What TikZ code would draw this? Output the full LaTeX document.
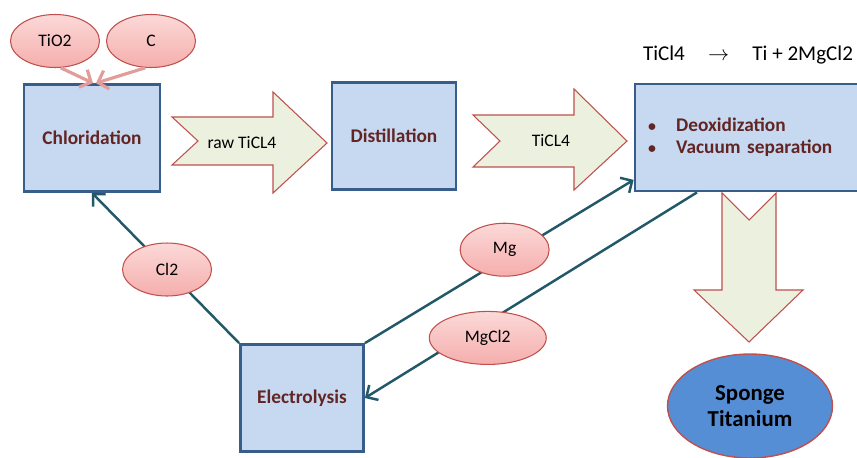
\documentclass[tikz,border=0pt]{standalone}
\usepackage{fontspec}
\setmainfont{Carlito}
\usetikzlibrary{arrows.meta,shapes.geometric}
\definecolor{boxfill}{HTML}{C6D9F1}
\definecolor{boxline}{HTML}{385D8A}
\definecolor{boxtext}{HTML}{632523}
\definecolor{ovaltop}{HTML}{FBD9D8}
\definecolor{ovalbot}{HTML}{F5AEAC}
\definecolor{redline}{HTML}{C0504D}
\definecolor{arrowfill}{HTML}{EBF1DE}
\definecolor{linkcol}{HTML}{215968}
\definecolor{feedcol}{HTML}{E29C9A}
\definecolor{spongefill}{HTML}{558ED5}

\begin{document}
\begin{tikzpicture}[x=0.02cm, y=-0.02cm, every node/.style={font=\fontsize{10}{12}\selectfont}]
\tikzset{
  stage/.style={draw=boxline, fill=boxfill, line width=1.6pt, text=boxtext,
    font=\fontsize{11}{12}\selectfont\bfseries, minimum height=2.14cm},
  oval/.style={ellipse, draw=redline, top color=ovaltop, bottom color=ovalbot,
    line width=0.6pt, minimum width=1.78cm, minimum height=1.06cm, inner sep=0pt},
  blockarrow/.style={draw=redline, fill=arrowfill, line width=0.6pt, line join=miter},
  link/.style={draw=linkcol, line width=1.4pt, -{Straight Barb[length=5pt,width=10pt]}},
  feed/.style={draw=feedcol, line width=1.8pt, -{Straight Barb[length=5pt,width=11pt]}}
}
\fill[white] (0,0) rectangle (857,457);
\useasboundingbox (0,0) rectangle (857,457);

% process stages
\node[stage, minimum width=2.72cm] (chlor) at (92,138) {Chloridation};
\node[stage, minimum width=2.48cm] (dist) at (394,136) {Distillation};
\node[stage, minimum width=2.46cm] (elec) at (302,398) {Electrolysis};
\node[stage, minimum width=4.6cm, text width=4.08cm, inner xsep=0.26cm, align=left,
  font=\fontsize{11}{12.6}\selectfont\bfseries] (deox) at (750,137.5)
  {{\small\textbullet}\hspace{1.05em}Deoxidization\\{\small\textbullet}\hspace{1.05em}Vacuum separation};

% raw materials
\node[oval] (tio2) at (55,41) {TiO2};
\node[oval] (carbon) at (151,41) {C};
\draw[feed] (tio2.-78) -- ([xshift=0.02cm]chlor.north);
\draw[feed] (carbon.-102) -- ([xshift=0.08cm]chlor.north);

% main flow
\draw[blockarrow] (172,117) -- (273,117) -- (273,92) -- (327,143) -- (273,193)
  -- (273,165) -- (172,165) -- (198,141) -- cycle;
\node (raw) at (242,143) {raw TiCL4};
\draw[blockarrow] (473,115) -- (574,115) -- (574,89) -- (627,141) -- (574,190)
  -- (574,167) -- (473,167) -- (500,141) -- cycle;
\node (pure) at (551,141) {TiCL4};
\draw[blockarrow] (722,193) -- (749,220) -- (776,193) -- (776,290) -- (803,290)
  -- (749,342) -- (694,290) -- (722,290) -- cycle;

\node[font=\fontsize{12}{14}\selectfont] (eq) at (748,55)
  {TiCl4\hspace{1.1em}$\rightarrow$\hspace{1.1em}Ti + 2MgCl2};

\node[ellipse, draw=redline, fill=spongefill, line width=0.8pt, minimum width=3.3cm,
  minimum height=2.08cm, align=center, font=\fontsize{13}{15}\selectfont\bfseries]
  (sponge) at (750,406) {Sponge\\Titanium};

% recycling loop
\draw[link] (elec.north west) -- node[oval, pos=0.49] (cl2) {Cl2} (chlor.south);
\draw[link] (elec.north east) -- node[oval, pos=0.52, yshift=0.17cm] (mg) {Mg} (deox.200);
\draw[link] (deox.-134) -- node[oval, pos=0.63, yshift=-0.32cm, minimum width=2.34cm] (mgcl2) {MgCl2} (elec.east);
\end{tikzpicture}
\end{document}
